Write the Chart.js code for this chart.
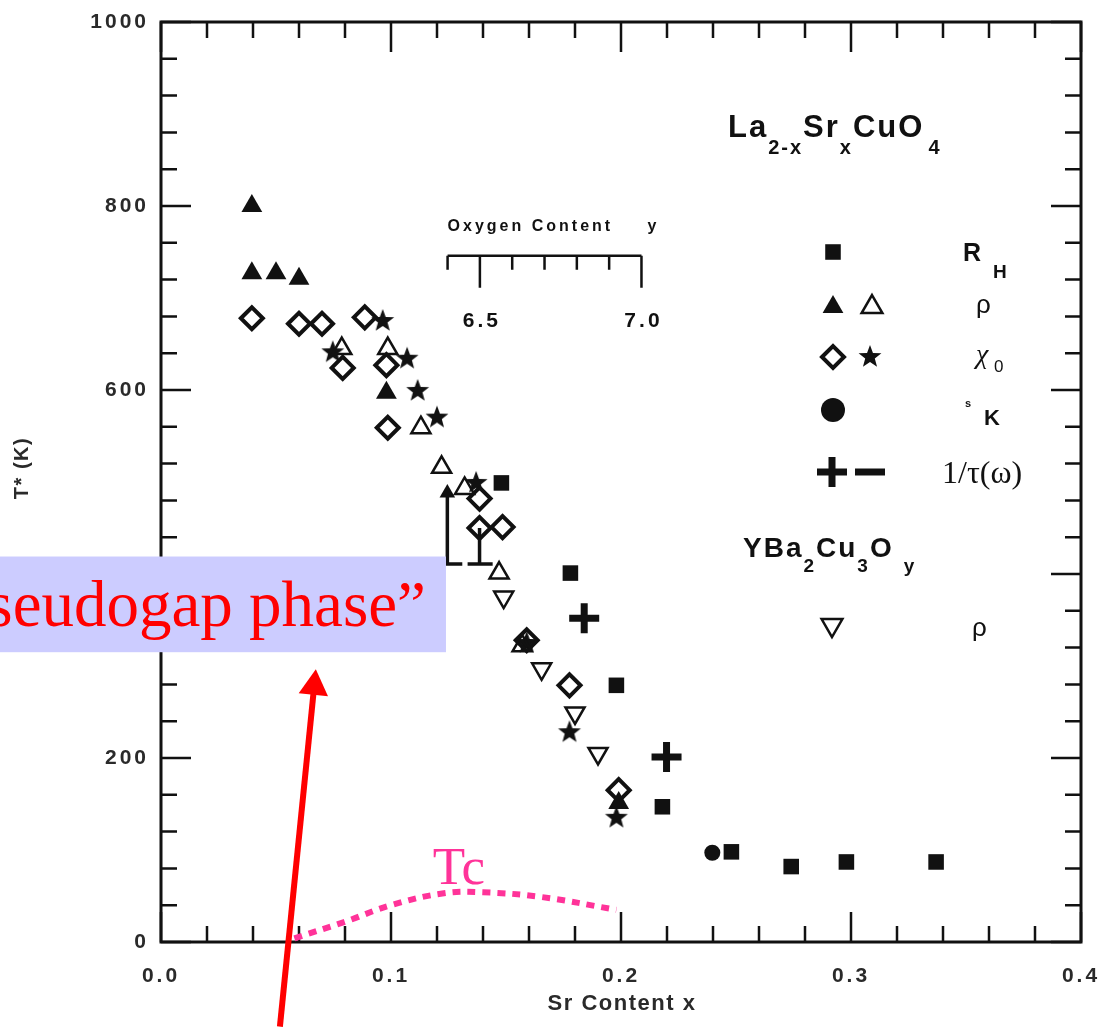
<!DOCTYPE html>
<html>
<head>
<meta charset="utf-8">
<title>T* vs Sr content</title>
<script src="https://cdn.jsdelivr.net/npm/chart.js@4.4.1/dist/chart.umd.min.js"></script>
<style>
  html, body { margin: 0; padding: 0; background: #fff; }
  #wrap { width: 1103px; height: 1027px; position: relative; }
</style>
</head>
<body>
<div id="wrap"><canvas id="pseudogapChart"></canvas></div>
<script>
// axis ticks
const xTickValues = [0, 0.1, 0.2, 0.3, 0.4];
const yTickValues = [0, 200, 400, 600, 800, 1000];

// La2-xSrxCuO4  [Sr content x, T* (K)]
const rhSquares = [[0.148, 499], [0.178, 401], [0.198, 279], [0.218, 147], [0.248, 98], [0.274, 82], [0.298, 87], [0.337, 87]];
const rhoFilled = [[0.0395, 800], [0.0395, 727], [0.050, 727], [0.060, 721], [0.098, 597], [0.199, 151]];
const rhoOpen = [[0.0786, 645], [0.0986, 645], [0.113, 559], [0.122, 516], [0.132, 493], [0.147, 401], [0.157, 322]];
const chiDiamonds = [[0.0395, 678], [0.060, 672], [0.070, 672], [0.0886, 679], [0.079, 624], [0.098, 627], [0.0986, 559],
  [0.1385, 482], [0.1385, 450], [0.1485, 451], [0.159, 328], [0.1776, 279], [0.199, 165]];
const chiStars = [[0.0964, 675], [0.0747, 641], [0.107, 634], [0.1116, 599], [0.120, 570], [0.137, 499], [0.159, 325], [0.1776, 228], [0.198, 135]];
const kappaCircles = [[0.2397, 97]];
const tauPlus = [[0.184, 352], [0.2198, 201]];

// YBa2Cu3Oy
const ybcoRho = [[0.149, 375], [0.1655, 297], [0.180, 249], [0.190, 205]];

// lower-bound markers
const boundArrow = [[0.131, 411], [0.1245, 411], [0.1245, 488]];
const boundBar = [[0.1333, 411], [0.1442, 411], [0.1385, 411], [0.1385, 450]];

// Tc dome and annotation arrow
const tcDome = [[0.058, 4], [0.080, 22], [0.100, 40], [0.123, 53], [0.140, 54], [0.165, 49], [0.198, 35]];
const redArrow = [[0.0517, -92], [0.0666, 278]];

// oxygen content inset scale
const oxygenTicks = [6.4, 6.5, 6.6, 6.7, 6.8, 6.9, 7.0];
const oxygenLabels = [6.5, 7.0];

const INK = '#111';
const SANS = '"Liberation Sans", Arial, sans-serif';
const SERIF = '"Liberation Serif", "Times New Roman", serif';

const toXY = arr => arr.map(([x, y]) => ({ x, y }));

function makeStar(r) {
  const c = document.createElement('canvas');
  c.width = c.height = Math.ceil(r * 2 + 2);
  const g = c.getContext('2d');
  const cx = c.width / 2, cy = c.height / 2;
  g.beginPath();
  for (let i = 0; i < 10; i++) {
    const rr = i % 2 === 0 ? r : r * 0.42;
    const a = -Math.PI / 2 + i * Math.PI / 5;
    g.lineTo(cx + rr * Math.cos(a), cy + rr * Math.sin(a));
  }
  g.closePath();
  g.fillStyle = INK;
  g.fill();
  return c;
}
const starImg = makeStar(12);

function marker(ctx, x, y, style, radius, opts = {}) {
  ctx.save();
  ctx.fillStyle = opts.fill || 'rgba(0,0,0,0)';
  ctx.strokeStyle = INK;
  ctx.lineWidth = opts.border || 0;
  Chart.helpers.drawPoint(ctx, { pointStyle: style, radius: radius, rotation: opts.rotation || 0, borderWidth: opts.border || 0 }, x, y);
  ctx.restore();
}

// text made of normal and subscript runs
function drawRuns(ctx, x, y, runs, mainFont, subFont, subDrop) {
  let cx = x;
  runs.forEach(([t, sub, gap]) => {
    cx += gap || 0;
    ctx.font = sub ? subFont : mainFont;
    ctx.fillText(t, cx, sub ? y + subDrop : y);
    cx += ctx.measureText(t).width;
  });
}

const frameTicks = {
  id: 'frameTicks',
  beforeDraw(chart) {
    chart.ctx.letterSpacing = '3px';
  },
  beforeDatasetsDraw(chart) {
    const { ctx, chartArea: a, scales: { x, y } } = chart;
    ctx.save();
    ctx.strokeStyle = INK;
    ctx.lineWidth = 3;
    ctx.strokeRect(a.left, a.top, a.right - a.left, a.bottom - a.top);
    ctx.lineWidth = 2.5;
    ctx.beginPath();
    for (let i = 0; i <= 20; i++) {
      const px = x.getPixelForValue(i * 0.02);
      const len = i % 5 === 0 ? 30 : 16;
      ctx.moveTo(px, a.bottom); ctx.lineTo(px, a.bottom - len);
      ctx.moveTo(px, a.top); ctx.lineTo(px, a.top + len);
    }
    for (let i = 0; i <= 25; i++) {
      const py = y.getPixelForValue(i * 40);
      const len = i % 5 === 0 ? 30 : 16;
      ctx.moveTo(a.left, py); ctx.lineTo(a.left + len, py);
      ctx.moveTo(a.right, py); ctx.lineTo(a.right - len, py);
    }
    ctx.stroke();
    ctx.restore();
  },
  afterDraw(chart) {
    const { ctx, scales: { x, y } } = chart;
    ctx.save();
    ctx.fillStyle = INK;
    ctx.strokeStyle = INK;

    // oxygen content inset axis
    const oxToPx = o => x.getPixelForValue(0.1246 + (o - 6.4) * 0.1405);
    const oy = y.getPixelForValue(746);
    ctx.lineWidth = 2.5;
    ctx.beginPath();
    ctx.moveTo(oxToPx(6.4), oy); ctx.lineTo(oxToPx(7.0), oy);
    oxygenTicks.forEach(o => {
      const len = oxygenLabels.some(l => Math.abs(l - o) < 1e-6) ? 32 : 14;
      ctx.moveTo(oxToPx(o), oy); ctx.lineTo(oxToPx(o), oy + len);
    });
    ctx.stroke();
    ctx.letterSpacing = '3px';
    ctx.font = 'bold 16px ' + SANS;
    ctx.textBaseline = 'alphabetic';
    ctx.textAlign = 'left';
    ctx.fillText('Oxygen Content', oxToPx(6.4), oy - 25);
    ctx.fillText('y', oxToPx(7.0) + 6, oy - 25);
    ctx.font = 'bold 21px ' + SANS;
    ctx.textAlign = 'center';
    ctx.textBaseline = 'middle';
    oxygenLabels.forEach(o => ctx.fillText(o.toFixed(1), oxToPx(o) + 2, oy + 66));

    // compound labels
    ctx.textAlign = 'left';
    ctx.textBaseline = 'alphabetic';
    ctx.letterSpacing = '2px';
    drawRuns(ctx, 728, 137, [['La', 0], ['2-x', 1], ['Sr', 0], ['x', 1], ['CuO', 0], ['4', 1, 4]],
      'bold 31px ' + SANS, 'bold 20px ' + SANS, 17);
    drawRuns(ctx, 743, 557, [['YBa', 0], ['2', 1], ['Cu', 0], ['3', 1], ['O', 0], ['y', 1, 10]],
      'bold 28px ' + SANS, 'bold 19px ' + SANS, 15);
    ctx.letterSpacing = '0px';

    // legend markers
    marker(ctx, 833, 252, 'rect', 11, { fill: INK });
    marker(ctx, 833, 307, 'triangle', 12, { fill: INK });
    marker(ctx, 872, 307, 'triangle', 12, { border: 2.5 });
    marker(ctx, 833, 357, 'rectRot', 11, { border: 4 });
    marker(ctx, 870, 357, starImg, 12);
    marker(ctx, 833, 410, 'circle', 12, { fill: INK });
    marker(ctx, 832, 472, 'cross', 15, { border: 7 });
    marker(ctx, 870, 472, 'line', 15, { border: 7 });
    marker(ctx, 832, 625, 'triangle', 12, { border: 2.5, rotation: 180 });

    // legend texts
    ctx.font = 'bold 25px ' + SANS;
    ctx.fillText('R', 963, 261);
    ctx.font = 'bold 19px ' + SANS;
    ctx.fillText('H', 993, 278);
    ctx.font = '26px ' + SANS;
    ctx.fillText('\u03C1', 976, 313);
    ctx.fillText('\u03C1', 972, 636);
    ctx.font = 'italic 28px ' + SERIF;
    ctx.fillText('\u03C7', 976, 363);
    ctx.font = '17px ' + SANS;
    ctx.fillText('0', 994, 372);
    ctx.font = 'bold 11px ' + SANS;
    ctx.fillText('s', 965, 407);
    ctx.font = 'bold 22px ' + SANS;
    ctx.fillText('K', 984, 425);
    ctx.font = '32px ' + SERIF;
    ctx.fillText('1/\u03C4(\u03C9)', 942, 483);

    // "pseudogap phase" box
    const boxL = x.getPixelForValue(-0.07), boxR = x.getPixelForValue(0.1239);
    const boxT = y.getPixelForValue(419), boxB = y.getPixelForValue(315);
    ctx.fillStyle = '#ccccff';
    ctx.fillRect(boxL, boxT, boxR - boxL, boxB - boxT);
    ctx.fillStyle = '#ff0000';
    ctx.font = '65px ' + SERIF;
    ctx.textAlign = 'right';
    ctx.fillText('\u201Cpseudogap phase\u201D', x.getPixelForValue(0.1152), y.getPixelForValue(343));

    // Tc label
    ctx.fillStyle = '#ff3399';
    ctx.font = '53px ' + SERIF;
    ctx.textAlign = 'left';
    ctx.fillText('Tc', x.getPixelForValue(0.1182), y.getPixelForValue(63));

    // axis titles
    ctx.fillStyle = '#2a2a2a';
    ctx.letterSpacing = '1.5px';
    ctx.font = 'bold 22px ' + SANS;
    ctx.textAlign = 'center';
    ctx.textBaseline = 'middle';
    ctx.fillText('Sr Content x', 622, 1004);
    ctx.save();
    ctx.translate(22, 468);
    ctx.rotate(-Math.PI / 2);
    ctx.font = 'bold 20px ' + SANS;
    ctx.fillText('T* (K)', 0, 0);
    ctx.restore();

    ctx.restore();
    ctx.letterSpacing = '0px';
  }
};

const openNone = 'rgba(0,0,0,0)';

const datasets = [
  { label: 'R_H', data: toXY(rhSquares), pointStyle: 'rect', pointRadius: 11, pointBackgroundColor: INK, pointBorderWidth: 0 },
  { label: 'rho LSCO', data: toXY(rhoFilled), pointStyle: 'triangle', pointRadius: 12, pointBackgroundColor: INK, pointBorderWidth: 0 },
  { label: 'rho LSCO open', data: toXY(rhoOpen), pointStyle: 'triangle', pointRadius: 11, pointBackgroundColor: openNone, pointBorderColor: INK, pointBorderWidth: 2.5 },
  { label: 'chi0', data: toXY(chiDiamonds), pointStyle: 'rectRot', pointRadius: 11, pointBackgroundColor: openNone, pointBorderColor: INK, pointBorderWidth: 4 },
  { label: 'chi0 star', data: toXY(chiStars), pointStyle: starImg, pointRadius: 12 },
  { label: 'K', data: toXY(kappaCircles), pointStyle: 'circle', pointRadius: 8, pointBackgroundColor: INK, pointBorderWidth: 0 },
  { label: '1/tau', data: toXY(tauPlus), pointStyle: 'cross', pointRadius: 15, pointBorderColor: INK, pointBorderWidth: 7 },
  { label: 'rho YBCO', data: toXY(ybcoRho), pointStyle: 'triangle', pointRotation: 180, pointRadius: 11, pointBackgroundColor: openNone, pointBorderColor: INK, pointBorderWidth: 2.5 },
  { label: 'bound arrow', data: toXY(boundArrow), showLine: true, borderColor: INK, borderWidth: 3.5,
    pointRadius: [0, 0, 9], pointStyle: 'triangle', pointBackgroundColor: INK, pointBorderWidth: 0 },
  { label: 'bound bar', data: toXY(boundBar), showLine: true, borderColor: INK, borderWidth: 3.5, pointRadius: 0 },
  { label: 'Tc', data: toXY(tcDome), showLine: true, borderColor: '#ff3399', borderWidth: 6, borderDash: [8, 7],
    tension: 0.4, pointRadius: 0 },
  { label: 'arrow', data: toXY(redArrow), showLine: true, clip: false, borderColor: '#ff0000', borderWidth: 6,
    pointRadius: [0, 17], pointStyle: 'triangle', pointRotation: 5.6, pointBackgroundColor: '#ff0000', pointBorderWidth: 0 }
];

new Chart(document.getElementById('pseudogapChart'), {
  type: 'scatter',
  data: { datasets: datasets },
  options: {
    responsive: true,
    maintainAspectRatio: false,
    animation: false,
    events: [],
    layout: { padding: { top: 21, right: 21, left: 0, bottom: 0 } },
    plugins: { legend: { display: false }, tooltip: { enabled: false } },
    scales: {
      x: {
        type: 'linear', min: 0, max: 0.4,
        afterBuildTicks: s => { s.ticks = xTickValues.map(v => ({ value: v })); },
        afterFit: s => { s.height = 85; s.paddingLeft = 0; s.paddingRight = 0; },
        grid: { display: false, drawTicks: false },
        border: { display: false },
        ticks: { callback: v => v.toFixed(1), color: '#2a2a2a', font: { family: SANS, size: 21, weight: 'bold' }, padding: 22, maxRotation: 0 }
      },
      y: {
        type: 'linear', min: 0, max: 1000,
        afterBuildTicks: s => { s.ticks = yTickValues.map(v => ({ value: v })); },
        afterFit: s => { s.width = 161; s.paddingTop = 0; s.paddingBottom = 0; },
        grid: { display: false, drawTicks: false },
        border: { display: false },
        ticks: { callback: v => String(v), color: '#2a2a2a', font: { family: SANS, size: 21, weight: 'bold' }, padding: 12 }
      }
    }
  },
  plugins: [frameTicks]
});
</script>
</body>
</html>
